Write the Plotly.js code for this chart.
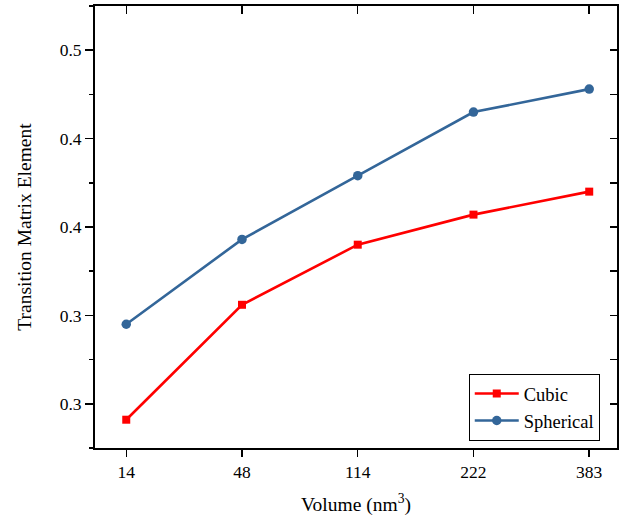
<!DOCTYPE html>
<html>
<head>
<meta charset="utf-8">
<script src="https://cdn.plot.ly/plotly-3.0.1.min.js"></script>
<style>html,body{margin:0;padding:0;background:#fff;}#chart{width:630px;height:516px;}</style>
</head>
<body>
<div id="chart"></div>
<script>
const volumes = ['14', '48', '114', '222', '383'];
const cubic = [0.291, 0.356, 0.390, 0.407, 0.420];
const spherical = [0.345, 0.393, 0.429, 0.465, 0.478];
const yTickVals = [0.3, 0.35, 0.4, 0.45, 0.5];
const yTickText = ['0.3', '0.3', '0.4', '0.4', '0.5'];

const font = {family: 'Liberation Serif, Times New Roman, serif', color: '#000'};
const xr = [-0.27, 4.24];
const yr = [0.275, 0.525];

const traces = [
  {x: volumes, y: cubic, name: 'Cubic', type: 'scatter', mode: 'lines+markers',
   line: {color: '#ff0000', width: 2.6}, marker: {symbol: 'square', size: 8, color: '#ff0000'}},
  {x: volumes, y: spherical, name: 'Spherical', type: 'scatter', mode: 'lines+markers',
   line: {color: '#336699', width: 2.6}, marker: {symbol: 'circle', size: 9.5, color: '#336699'}},
  {x: volumes, y: cubic, xaxis: 'x2', yaxis: 'y2', mode: 'none', type: 'scatter',
   showlegend: false, hoverinfo: 'skip'}
];

const layout = {
  width: 630, height: 516,
  margin: {l: 95, r: 13, t: 6, b: 68},
  paper_bgcolor: '#fff', plot_bgcolor: '#fff',
  font: Object.assign({size: 17}, font),
  showlegend: true,
  legend: {x: 0.716, y: 0.016, xanchor: 'left', yanchor: 'bottom',
    bordercolor: '#000', borderwidth: 1, bgcolor: '#fff',
    font: Object.assign({size: 18.5}, font), tracegroupgap: 0, itemwidth: 44},
  xaxis: {type: 'category', range: xr, showgrid: false, zeroline: false,
    showline: true, linecolor: '#000', linewidth: 2, mirror: true,
    ticks: 'outside', ticklen: 7, tickwidth: 1.5, tickcolor: '#000',
    tickfont: Object.assign({size: 17.5}, font),
    title: {text: 'Volume (nm<sup>3</sup>)', font: Object.assign({size: 19.5}, font), standoff: 20}},
  yaxis: {range: yr, showgrid: false, zeroline: false,
    showline: true, linecolor: '#000', linewidth: 2, mirror: true,
    tickmode: 'array', tickvals: yTickVals, ticktext: yTickText,
    ticks: 'outside', ticklen: 8, tickwidth: 1.5, tickcolor: '#000',
    minor: {dtick: 0.025, ticks: 'outside', ticklen: 4, tickwidth: 1.5, tickcolor: '#000', tick0: 0},
    tickfont: Object.assign({size: 17.5}, font),
    title: {text: 'Transition Matrix Element', font: Object.assign({size: 19.5}, font), standoff: 23}},
  xaxis2: {type: 'category', range: xr, overlaying: 'x', side: 'top', anchor: 'y2',
    showgrid: false, zeroline: false, showline: false, showticklabels: false,
    ticks: 'inside', ticklen: 8, tickwidth: 1.5, tickcolor: '#000'},
  yaxis2: {range: yr, overlaying: 'y', side: 'right', anchor: 'x2',
    showgrid: false, zeroline: false, showline: false, showticklabels: false,
    tickmode: 'array', tickvals: yTickVals,
    ticks: 'inside', ticklen: 7, tickwidth: 1.5, tickcolor: '#000',
    minor: {dtick: 0.025, ticks: 'inside', ticklen: 7, tickwidth: 1.5, tickcolor: '#000', tick0: 0}}
};

Plotly.newPlot('chart', traces, layout, {displayModeBar: false, staticPlot: true});
</script>
</body>
</html>
